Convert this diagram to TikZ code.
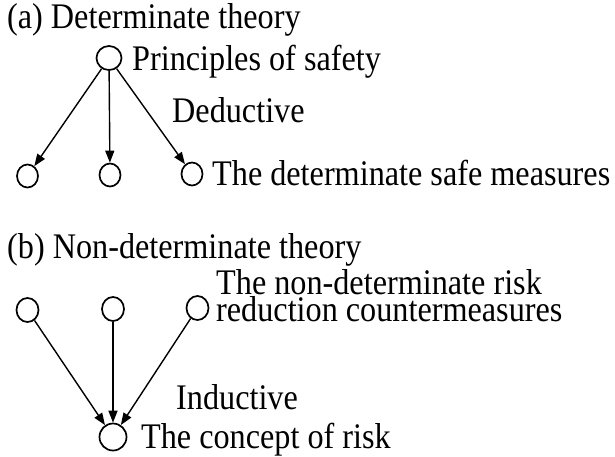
\documentclass[tikz,border=0pt]{standalone}
\usepackage{fontspec}
\setmainfont{Liberation Serif}[FakeStretch=0.895]
\usetikzlibrary{arrows.meta,shapes.geometric}
\begin{document}
\begin{tikzpicture}[x=1pt,y=-1pt,
  circ/.style={draw,ellipse,line width=1.7pt,minimum width=21pt,minimum height=23pt,inner sep=0pt},
  bigcirc/.style={circ,minimum width=27pt,minimum height=27pt},
  arr/.style={line width=1.4pt,-{Triangle[length=12pt,width=9pt]}},
  lbl/.style={anchor=base west,inner sep=0pt,font=\fontsize{36}{24.5}\selectfont,align=left}]
\useasboundingbox (0,0) rectangle (615,456);
% (a)
\node[lbl] (ta) at (7,28) {(a) Determinate theory};
\node[circ,minimum width=25pt,minimum height=24pt] (a0) at (109,58) {};
\node[lbl] (pa) at (132,70) {Principles of safety};
\node[lbl] (da) at (172,122) {Deductive};
\node[circ] (a1) at (27.5,176) {};
\node[circ] (a2) at (110,175) {};
\node[circ] (a3) at (192,174) {};
\node[lbl] (ma) at (212,185) {The determinate safe measures};
\draw[arr] (a0) -- (a1);
\draw[arr] (a0) -- (a2);
\draw[arr] (a0) -- (a3);
% (b)
\node[lbl] (tb) at (7,258) {(b) Non-determinate theory};
\node[circ,minimum width=22pt,minimum height=24pt] (b1) at (27.5,310) {};
\node[circ,minimum width=22pt,minimum height=24pt] (b2) at (113,309) {};
\node[circ,minimum width=22pt,minimum height=24pt] (b3) at (197.5,308) {};
\node[lbl] (nb) at (216,321) {The non-determinate risk\\reduction countermeasures};
\node[lbl] (ib) at (176,409) {Inductive};
\node[bigcirc] (b0) at (113,437) {};
\node[lbl] (cb) at (141,448) {The concept of risk};
\draw[arr] (b1) -- (b0);
\draw[arr] (b2) -- (b0);
\draw[arr] (b3) -- (b0);
\end{tikzpicture}
\end{document}
